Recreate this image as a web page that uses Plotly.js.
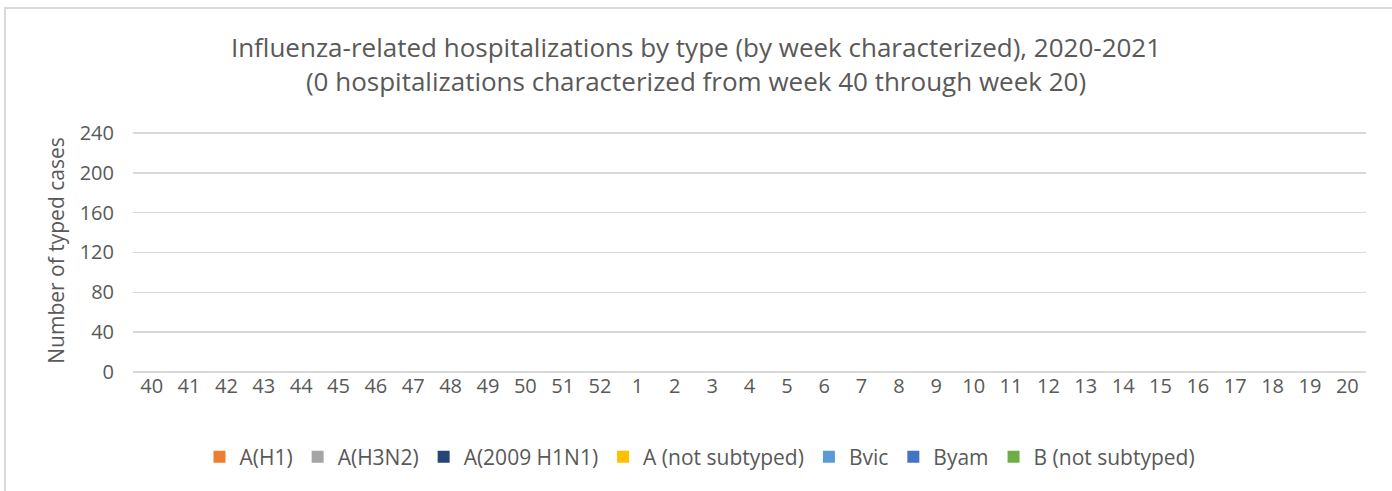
<!DOCTYPE html>
<html>
<head>
<meta charset="utf-8">
<script src="https://cdn.plot.ly/plotly-3.0.1.min.js"></script>
<style>
  html, body { margin: 0; padding: 0; background: #fff; overflow: hidden; }
  #chart { width: 1392px; height: 491px; }
</style>
</head>
<body>
<div id="chart"></div>
<script>
// Weeks (2020 week 40 through 2021 week 20)
const weeks = ["40","41","42","43","44","45","46","47","48","49","50","51","52",
               "1","2","3","4","5","6","7","8","9","10","11","12","13","14","15","16","17","18","19","20"];

// Series values (0 hospitalizations characterized in every week)
const aH1          = [0,0,0,0,0,0,0,0,0,0,0,0,0,0,0,0,0,0,0,0,0,0,0,0,0,0,0,0,0,0,0,0,0];
const aH3N2        = [0,0,0,0,0,0,0,0,0,0,0,0,0,0,0,0,0,0,0,0,0,0,0,0,0,0,0,0,0,0,0,0,0];
const a2009H1N1    = [0,0,0,0,0,0,0,0,0,0,0,0,0,0,0,0,0,0,0,0,0,0,0,0,0,0,0,0,0,0,0,0,0];
const aNotSubtyped = [0,0,0,0,0,0,0,0,0,0,0,0,0,0,0,0,0,0,0,0,0,0,0,0,0,0,0,0,0,0,0,0,0];
const bVic         = [0,0,0,0,0,0,0,0,0,0,0,0,0,0,0,0,0,0,0,0,0,0,0,0,0,0,0,0,0,0,0,0,0];
const bYam         = [0,0,0,0,0,0,0,0,0,0,0,0,0,0,0,0,0,0,0,0,0,0,0,0,0,0,0,0,0,0,0,0,0];
const bNotSubtyped = [0,0,0,0,0,0,0,0,0,0,0,0,0,0,0,0,0,0,0,0,0,0,0,0,0,0,0,0,0,0,0,0,0];

const seriesNames = ["A(H1)","A(H3N2)","A(2009 H1N1)","A (not subtyped)","Bvic","Byam","B (not subtyped)"];
const seriesValues = [aH1, aH3N2, a2009H1N1, aNotSubtyped, bVic, bYam, bNotSubtyped];
const seriesColors = ["#ED7D31","#A5A5A5","#264478","#FFC000","#5B9BD5","#4472C4","#70AD47"];

const yTicks = [0,40,80,120,160,200,240];

const traces = seriesNames.map((name, i) => ({
  type: "bar",
  name: name,
  x: weeks,
  y: seriesValues[i],
  marker: { color: seriesColors[i] },
  hoverinfo: "x+y+name"
}));

const FONT = "'Open Sans', 'Noto Sans', sans-serif";
const W = 1392, H = 491;
const L = 133, R = 26, T = 129, B = 119;
const pw = W - L - R, ph = H - T - B;

const layout = {
  width: W, height: H,
  margin: { l: L, r: R, t: T, b: B, pad: 0 },
  paper_bgcolor: "#ffffff",
  plot_bgcolor: "#ffffff",
  barmode: "stack",
  bargap: 0.5,
  font: { family: FONT, color: "#595959", size: 20 },
  title: {
    text: "Influenza-related hospitalizations by type (by week characterized), 2020-2021<br>(0 hospitalizations characterized from week 40 through week 20)",
    font: { family: FONT, size: 26, color: "#595959" },
    x: 0.5, xanchor: "center",
    y: 1 - 57 / H, yanchor: "middle", yref: "container"
  },
  xaxis: {
    type: "category",
    tickmode: "array",
    tickvals: weeks,
    ticktext: weeks,
    showgrid: false,
    showline: false,
    zeroline: false,
    ticks: "",
    ticklen: 0,
    tickfont: { family: FONT, size: 20, color: "#595959" },
    fixedrange: true
  },
  yaxis: {
    range: [0, 244],
    tickmode: "array",
    tickvals: yTicks,
    ticktext: yTicks.map(String),
    showgrid: true,
    gridcolor: "#D9D9D9",
    gridwidth: 1.5,
    zeroline: true,
    zerolinecolor: "#D9D9D9",
    zerolinewidth: 1.5,
    showline: false,
    ticks: "",
    ticklabelstandoff: 18,
    tickfont: { family: FONT, size: 20, color: "#595959" },
    title: {
      text: "Number of typed cases",
      font: { family: FONT, size: 21, color: "#595959" },
      standoff: 9
    },
    fixedrange: true
  },
  showlegend: true,
  legend: {
    orientation: "h",
    x: (700 - L) / pw, xanchor: "center",
    y: (372 - 457) / (372 - T), yanchor: "middle",
    font: { family: FONT, size: 21, color: "#595959" },
    itemwidth: 30,
    traceorder: "normal",
    bgcolor: "rgba(0,0,0,0)"
  },
  shapes: [{
    type: "rect",
    xref: "paper", yref: "paper",
    x0: (5 - L) / pw, x1: (1420 - L) / pw,
    y0: (372 - 520) / (372 - T), y1: (372 - 8) / (372 - T),
    line: { color: "#D9D9D9", width: 2 },
    fillcolor: "rgba(0,0,0,0)",
    layer: "below"
  }]
};

Plotly.newPlot("chart", traces, layout, { displayModeBar: false, staticPlot: true });
</script>
</body>
</html>
